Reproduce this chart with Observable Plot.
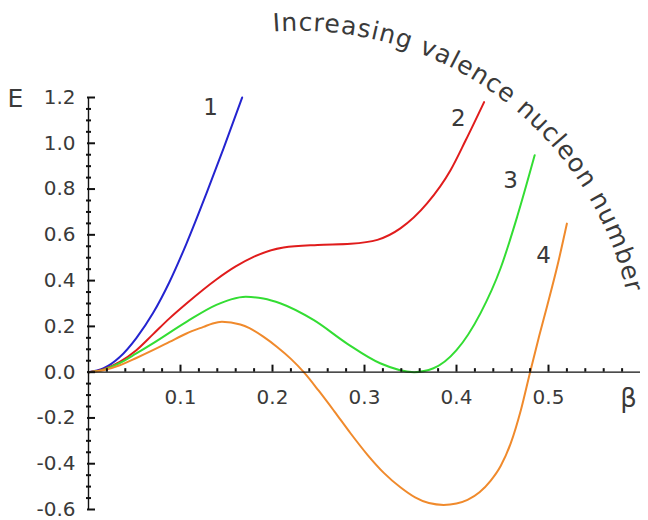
<!DOCTYPE html>
<html>
<head>
<meta charset="utf-8">
<script src="https://cdn.jsdelivr.net/npm/d3@7"></script>
<script src="https://cdn.jsdelivr.net/npm/@observablehq/plot@0.6"></script>
<style>
  html, body { margin: 0; padding: 0; background: #ffffff; }
  #chart { width: 648px; height: 520px; }
</style>
</head>
<body>
<div id="chart"></div>
<script>
// ---- data ----
const beta1 = [0, 0.016, 0.034, 0.052, 0.070, 0.088, 0.1065, 0.128, 0.147, 0.167];
const energy1 = [0, 0.016, 0.066, 0.149, 0.257, 0.394, 0.562, 0.779, 0.980, 1.20];

const beta2 = [0, 0.016, 0.034, 0.052, 0.070, 0.088, 0.1065, 0.139, 0.160, 0.180, 0.212, 0.249, 0.285, 0.314, 0.339, 0.368, 0.3935, 0.410, 0.430];
const energy2 = [0, 0.012, 0.045, 0.096, 0.165, 0.235, 0.300, 0.405, 0.462, 0.505, 0.545, 0.556, 0.561, 0.578, 0.628, 0.737, 0.882, 1.013, 1.18];

const beta3 = [0, 0.016, 0.034, 0.052, 0.070, 0.1065, 0.139, 0.155, 0.171, 0.190, 0.209, 0.245, 0.281, 0.317, 0.354, 0.375, 0.400, 0.426, 0.448, 0.466, 0.485];
const energy3 = [0, 0.010, 0.040, 0.082, 0.126, 0.220, 0.294, 0.318, 0.329, 0.322, 0.300, 0.227, 0.125, 0.039, 0.0, 0.017, 0.096, 0.257, 0.455, 0.680, 0.948];

const beta4 = [0, 0.016, 0.034, 0.052, 0.070, 0.088, 0.1065, 0.125, 0.135, 0.145, 0.165, 0.175, 0.190, 0.205, 0.220, 0.234, 0.250, 0.267, 0.285, 0.303, 0.321, 0.339, 0.355, 0.370, 0.386, 0.400, 0.412, 0.425, 0.437, 0.448, 0.459, 0.470, 0.480, 0.490, 0.4986, 0.510, 0.520];
const energy4 = [0, 0.008, 0.030, 0.062, 0.096, 0.132, 0.169, 0.198, 0.213, 0.220, 0.208, 0.192, 0.155, 0.110, 0.058, 0.0, -0.080, -0.170, -0.268, -0.360, -0.440, -0.503, -0.547, -0.572, -0.580, -0.574, -0.558, -0.525, -0.475, -0.410, -0.310, -0.165, 0.0, 0.160, 0.290, 0.470, 0.649];

const curveNames = ["1", "2", "3", "4"];
const curveColors = ["#2424d0", "#e01c1c", "#33dd33", "#f08a2c"];
// label anchor positions (beta, E)
const labelBeta = [0.1326, 0.402, 0.4587, 0.4946];
const labelEnergy = [1.157, 1.109, 0.838, 0.511];

const xMajorTicks = [0.1, 0.2, 0.3, 0.4, 0.5];
const xTickLabels = ["0.1", "0.2", "0.3", "0.4", "0.5"];
const yMajorTicks = [-0.6, -0.4, -0.2, 0.0, 0.2, 0.4, 0.6, 0.8, 1.0, 1.2];
const yTickLabels = ["-0.6", "-0.4", "-0.2", "0.0", "0.2", "0.4", "0.6", "0.8", "1.0", "1.2"];
const xMinorTicks = d3.range(1, 30).map(i => i * 0.02).filter(v => Math.abs(v * 10 - Math.round(v * 10)) > 1e-6);
const yMinorTicks = d3.range(-12, 25).map(i => i * 0.05).filter(v => Math.abs(v * 5 - Math.round(v * 5)) > 1e-6);

const xAxisLabel = "β";
const yAxisLabel = "E";
const arcTitle = "Increasing valence nucleon number";

// ---- build ----
const series = [
  {beta: beta1, e: energy1},
  {beta: beta2, e: energy2},
  {beta: beta3, e: energy3},
  {beta: beta4, e: energy4}
].map((s, k) => s.beta.map((b, i) => ({beta: b, e: s.e[i], curve: curveNames[k]})));

const labels = curveNames.map((n, i) => ({text: n, beta: labelBeta[i], e: labelEnergy[i]}));
const font = "DejaVu Sans, Verdana, sans-serif";
const textColor = "#3a3a3a";

const plot = Plot.plot({
  width: 648,
  height: 520,
  marginLeft: 88,
  marginRight: 8,
  marginTop: 97,
  marginBottom: 11,
  style: {fontFamily: font, background: "#ffffff", overflow: "visible"},
  x: {domain: [0, 0.6], axis: null},
  y: {domain: [-0.6, 1.2], axis: null},
  marks: [
    // curves
    ...series.map((d, k) => Plot.line(d, {x: "beta", y: "e", stroke: curveColors[k], strokeWidth: 2, curve: "monotone-x"})),
    // axes lines
    Plot.ruleY([0], {x1: 0, x2: 0.6, stroke: "#111", strokeWidth: 1.4}),
    Plot.ruleX([0], {y1: -0.6, y2: 1.2, stroke: "#111", strokeWidth: 1.4}),
    // x ticks (pointing up)
    Plot.ruleX(xMinorTicks, {x: d => d, y1: 0, y2: 0, insetTop: -3.5, insetBottom: 0, stroke: "#111", strokeWidth: 2}),
    Plot.ruleX(xMajorTicks, {x: d => d, y1: 0, y2: 0, insetTop: -7, insetBottom: 0, stroke: "#111", strokeWidth: 2}),
    // y ticks (pointing right)
    Plot.ruleY(yMinorTicks, {y: d => d, x1: 0, x2: 0, insetLeft: -2, insetRight: -3, stroke: "#111", strokeWidth: 2}),
    Plot.ruleY(yMajorTicks, {y: d => d, x1: 0, x2: 0, insetLeft: -1, insetRight: -7, stroke: "#111", strokeWidth: 2}),
    // tick labels
    Plot.text(xMajorTicks, {x: d => d, y: 0, text: (d, i) => xTickLabels[i], dy: 25, fontSize: 20, fill: textColor}),
    Plot.text(yMajorTicks, {x: 0, y: d => d, text: (d, i) => yTickLabels[i], dx: -13, textAnchor: "end", fontSize: 20, fill: textColor}),
    // axis labels
    Plot.text([yAxisLabel], {x: 0, y: 1.2, text: d => d, dx: -73, dy: 1, fontSize: 25, fill: textColor}),
    Plot.text([xAxisLabel], {x: 0.587, y: 0, text: d => d, dy: 27, fontSize: 26, fill: textColor}),
    // curve labels
    Plot.text(labels, {x: "beta", y: "e", text: "text", fontSize: 23, fill: textColor})
  ]
});

document.getElementById("chart").appendChild(plot);

// curved annotation along an arc (positions from the plot's scales)
const sx = plot.scale("x"), sy = plot.scale("y");
const toX = v => sx.apply ? sx.apply(v) : 88 + (v - 0) / 0.6 * 552;
const toY = v => sy.apply ? sy.apply(v) : 509 - (v + 0.6) / 1.8 * 412;
const cx = toX(0.2283), cy = toY(0.0175), R = 337;
const a0 = -94.2 * Math.PI / 180, a1 = 12 * Math.PI / 180;
const svg = d3.select(plot);
svg.append("defs").append("path")
  .attr("id", "arcPath")
  .attr("d", `M${cx + R * Math.cos(a0)},${cy + R * Math.sin(a0)} A${R},${R} 0 0 1 ${cx + R * Math.cos(a1)},${cy + R * Math.sin(a1)}`);
svg.append("text")
  .attr("font-family", font)
  .attr("font-size", 25)
  .attr("text-anchor", "start")
  .attr("fill", textColor)
  .append("textPath")
  .attr("href", "#arcPath")
  .attr("startOffset", 0)
  .attr("textLength", 478)
  .attr("lengthAdjust", "spacing")
  .text(arcTitle);
</script>
</body>
</html>
